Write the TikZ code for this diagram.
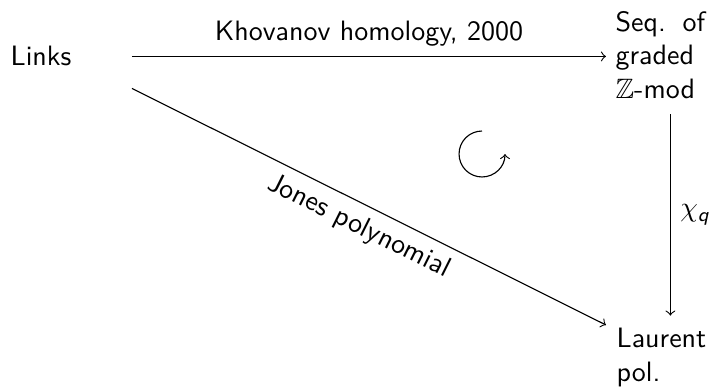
\documentclass[tikz,border=0pt]{standalone}
\usepackage{amsmath,amssymb}
\usetikzlibrary{calc}
\begin{document}
\begin{tikzpicture}[x=0.357pt, y=-0.357pt, >=to,
  obj/.style={font=\sffamily, inner sep=0pt},
  lbl/.style={font=\sffamily, inner sep=0.3333em}]
\useasboundingbox (0,0) rectangle (714,389);
\node[obj, anchor=base] (links) at (41,66) {Links};
\node[obj, align=left, anchor=north west] (seq) at (615,10.5) {Seq.\hspace{0.6em}of\\graded\\$\mathbb{Z}$-mod};
\node[obj, align=left, anchor=north west] (laur) at (616,327.6) {Laurent\\pol.};
\draw[->] ($(links.east)+(60,0)$) -- ($(links.east -| seq.west)+(-9,0)$)
  node[lbl, midway, above] {Khovanov homology, 2000};
\path ($(seq.south)+(10,15)$) coordinate (vs);
\draw[->] (vs) -- ($(vs |- laur.north)+(0,-12)$)
  node[lbl, midway, right] {$\chi_{\textsf{\itshape q}}$};
\draw[->] ($(links.east)+(60,32)$) -- ($(laur.north west)+(-10,-2.6)$)
  node[lbl, midway, sloped, below] {Jones polynomial};
\coordinate (rot) at (482,154);
\draw[->] ([shift={(90:8.2pt)}]rot) arc[start angle=90, end angle=360, radius=8.2pt];
\end{tikzpicture}
\end{document}
